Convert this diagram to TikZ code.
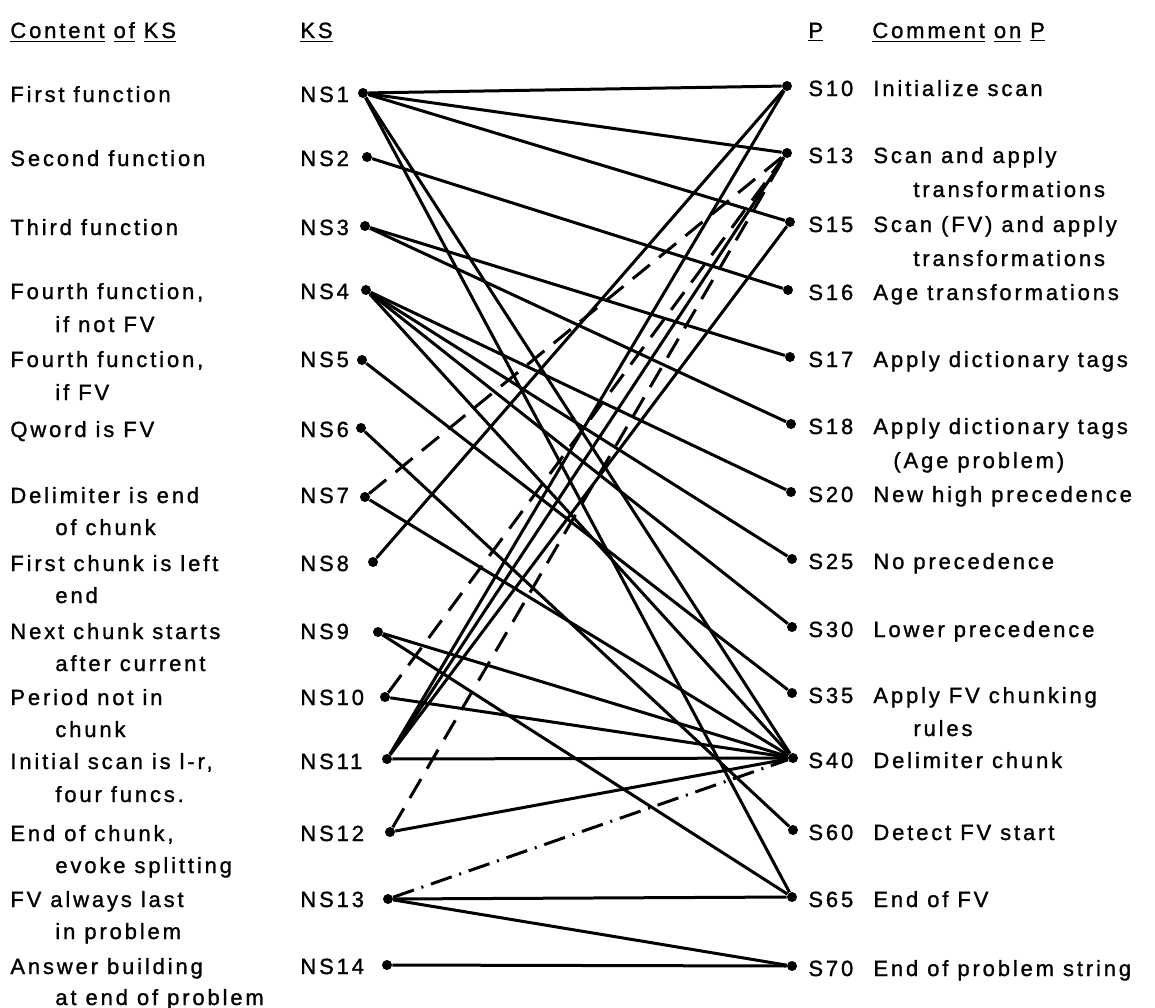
\documentclass[tikz,border=0pt]{standalone}
\usepackage{fontspec}
\setmainfont[LetterSpace=13,FakeBold=1.2]{Liberation Sans}
\begin{document}
\begin{tikzpicture}[
    x=0.5pt, y=-0.5pt,
    txt/.style={anchor=base west, inner sep=0pt, font=\fontsize{11}{13}\selectfont},
    dot/.style={circle, fill, inner sep=0pt, minimum size=5pt},
    link/.style={line width=1.5pt},
    dashlink/.style={line width=1.5pt, dash pattern=on 11pt off 6pt},
    dotlink/.style={line width=1.5pt, dash pattern=on 11pt off 4pt on 1pt off 4pt}
]
    \useasboundingbox (0,0) rectangle (1155,1007);

    % Headings
    \node[txt] (hcontent) at (10,38) {\underline{Content} \underline{of} \underline{KS}};
    \node[txt] (hks) at (300,38) {\underline{KS}};
    \node[txt] (hp) at (808,38) {\underline{P}};
    \node[txt] (hcomment) at (872,38) {\underline{Comment} \underline{on} \underline{P}};

    % Content of KS
    \node[txt] (c1) at (10,102) {First function};
    \node[txt] (c2) at (10,166) {Second function};
    \node[txt] (c3) at (10,235) {Third function};
    \node[txt] (c4) at (10,299) {Fourth function,};
    \node[txt] (c4b) at (55,332) {if not FV};
    \node[txt] (c5) at (10,367) {Fourth function,};
    \node[txt] (c5b) at (55,400) {if FV};
    \node[txt] (c6) at (10,437) {Qword is FV};
    \node[txt] (c7) at (10,503) {Delimiter is end};
    \node[txt] (c7b) at (55,535) {of chunk};
    \node[txt] (c8) at (10,571) {First chunk is left};
    \node[txt] (c8b) at (55,603) {end};
    \node[txt] (c9) at (10,639) {Next chunk starts};
    \node[txt] (c9b) at (55,671) {after current};
    \node[txt] (c10) at (10,705) {Period not in};
    \node[txt] (c10b) at (55,737) {chunk};
    \node[txt] (c11) at (10,769) {Initial scan is l-r,};
    \node[txt] (c11b) at (55,802) {four funcs.};
    \node[txt] (c12) at (10,841) {End of chunk,};
    \node[txt] (c12b) at (55,873) {evoke splitting};
    \node[txt] (c13) at (10,907) {FV always last};
    \node[txt] (c13b) at (55,939) {in problem};
    \node[txt] (c14) at (10,974) {Answer building};
    \node[txt] (c14b) at (55,1005) {at end of problem};

    % KS labels
    \node[txt] (ks1) at (300,102) {NS1};
    \node[txt] (ks2) at (300,166) {NS2};
    \node[txt] (ks3) at (300,235) {NS3};
    \node[txt] (ks4) at (300,299) {NS4};
    \node[txt] (ks5) at (300,367) {NS5};
    \node[txt] (ks6) at (300,437) {NS6};
    \node[txt] (ks7) at (300,503) {NS7};
    \node[txt] (ks8) at (300,571) {NS8};
    \node[txt] (ks9) at (300,639) {NS9};
    \node[txt] (ks10) at (300,705) {NS10};
    \node[txt] (ks11) at (300,769) {NS11};
    \node[txt] (ks12) at (300,841) {NS12};
    \node[txt] (ks13) at (300,907) {NS13};
    \node[txt] (ks14) at (300,974) {NS14};

    % P labels and comments
    \node[txt] (p10) at (808,96) {S10};
    \node[txt] (m10) at (873,96) {Initialize scan};
    \node[txt] (p13) at (808,163) {S13};
    \node[txt] (m13) at (873,163) {Scan and apply};
    \node[txt] (m13b) at (913,197) {transformations};
    \node[txt] (p15) at (808,232) {S15};
    \node[txt] (m15) at (873,232) {Scan (FV) and apply};
    \node[txt] (m15b) at (913,266) {transformations};
    \node[txt] (p16) at (808,300) {S16};
    \node[txt] (m16) at (873,300) {Age transformations};
    \node[txt] (p17) at (808,367) {S17};
    \node[txt] (m17) at (873,367) {Apply dictionary tags};
    \node[txt] (p18) at (808,434) {S18};
    \node[txt] (m18) at (873,434) {Apply dictionary tags};
    \node[txt] (m18b) at (893,468) {(Age problem)};
    \node[txt] (p20) at (808,502) {S20};
    \node[txt] (m20) at (873,502) {New high precedence};
    \node[txt] (p25) at (808,569) {S25};
    \node[txt] (m25) at (873,569) {No precedence};
    \node[txt] (p30) at (808,637) {S30};
    \node[txt] (m30) at (873,637) {Lower precedence};
    \node[txt] (p35) at (808,703) {S35};
    \node[txt] (m35) at (873,703) {Apply FV chunking};
    \node[txt] (m35b) at (913,736) {rules};
    \node[txt] (p40) at (808,768) {S40};
    \node[txt] (m40) at (873,768) {Delimiter chunk};
    \node[txt] (p60) at (808,840) {S60};
    \node[txt] (m60) at (873,840) {Detect FV start};
    \node[txt] (p65) at (808,907) {S65};
    \node[txt] (m65) at (873,907) {End of FV};
    \node[txt] (p70) at (808,976) {S70};
    \node[txt] (m70) at (873,976) {End of problem string};

    % KS dots
    \node[dot] (ns1) at (363,93) {};
    \node[dot] (ns2) at (367,157) {};
    \node[dot] (ns3) at (365,226) {};
    \node[dot] (ns4) at (366,290) {};
    \node[dot] (ns5) at (362,360) {};
    \node[dot] (ns6) at (361,428) {};
    \node[dot] (ns7) at (365,497) {};
    \node[dot] (ns8) at (373,562) {};
    \node[dot] (ns9) at (378,632) {};
    \node[dot] (ns10) at (385,697) {};
    \node[dot] (ns11) at (387,759) {};
    \node[dot] (ns12) at (390,832) {};
    \node[dot] (ns13) at (388,899) {};
    \node[dot] (ns14) at (387,965) {};

    % P dots
    \node[dot] (s10) at (787,86) {};
    \node[dot] (s13) at (787,153) {};
    \node[dot] (s15) at (790,222) {};
    \node[dot] (s16) at (788,290) {};
    \node[dot] (s17) at (790,357) {};
    \node[dot] (s18) at (791,424) {};
    \node[dot] (s20) at (791,492) {};
    \node[dot] (s25) at (792,559) {};
    \node[dot] (s30) at (792,627) {};
    \node[dot] (s35) at (792,693) {};
    \node[dot] (s40) at (793,758) {};
    \node[dot] (s60) at (793,830) {};
    \node[dot] (s65) at (792,897) {};
    \node[dot] (s70) at (792,966) {};

    % Links
    \draw[link] (ns1) -- (s10);
    \draw[link] (ns1) -- (s13);
    \draw[link] (ns1) -- (s15);
    \draw[link] (ns1) -- (s40);
    \draw[link] (ns1) -- (s65);
    \draw[link] (ns2) -- (s16);
    \draw[link] (ns3) -- (s17);
    \draw[link] (ns3) -- (s18);
    \draw[link] (ns4) -- (s20);
    \draw[link] (ns4) -- (s25);
    \draw[link] (ns4) -- (s30);
    \draw[link] (ns4) -- (s40);
    \draw[link] (ns5) -- (s35);
    \draw[link] (ns6) -- (s60);
    \draw[link] (ns7) -- (s40);
    \draw[link] (ns8) -- (s10);
    \draw[link] (ns9) -- (s40);
    \draw[link] (ns9) -- (s65);
    \draw[link] (ns10) -- (s40);
    \draw[link] (ns11) -- (s10);
    \draw[link] (ns11) -- (s13);
    \draw[link] (ns11) -- (s15);
    \draw[link] (ns11) -- (s40);
    \draw[link] (ns12) -- (s40);
    \draw[link] (ns13) -- (s65);
    \draw[link] (ns13) -- (s70);
    \draw[link] (ns14) -- (s70);

    % Dashed links
    \draw[dashlink] (ns7) -- (s13);
    \draw[dashlink] (ns10) -- (s13);
    \draw[dashlink] (ns12) -- (s13);
    \draw[dotlink] (ns13) -- (s40);

\end{tikzpicture}
\end{document}
